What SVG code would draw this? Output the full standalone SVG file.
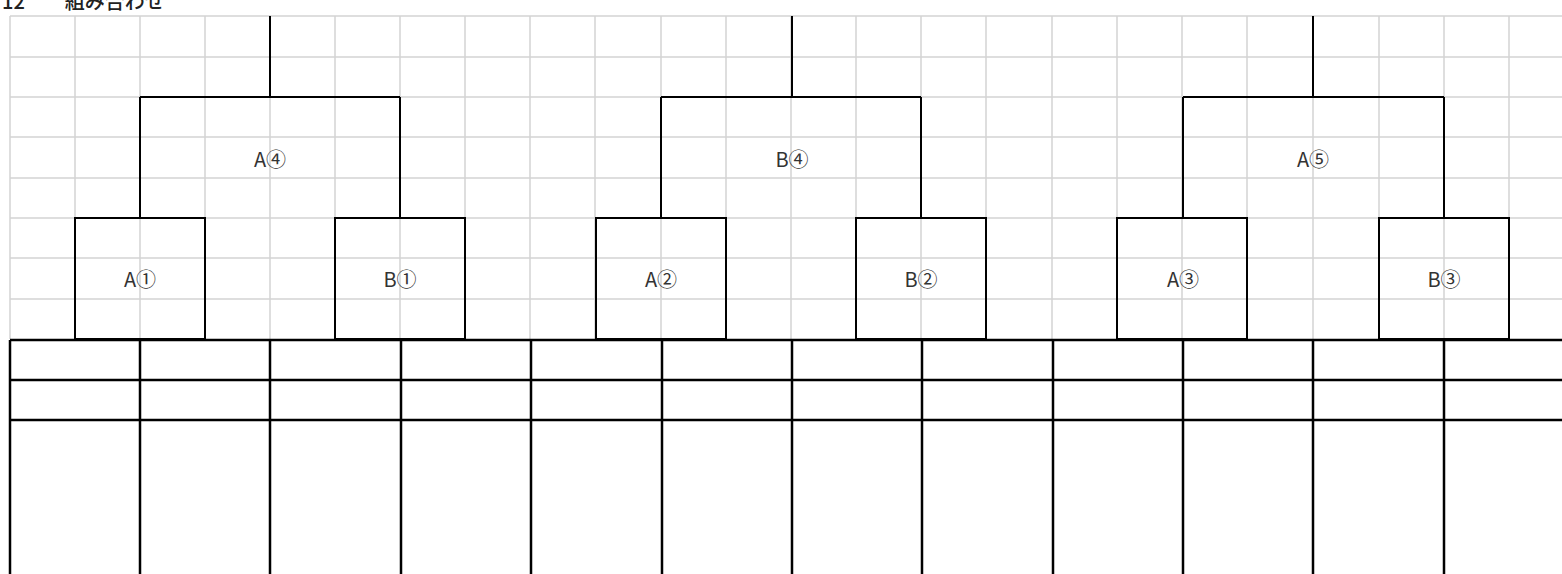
<svg xmlns="http://www.w3.org/2000/svg" width="1562" height="574" viewBox="0 0 1562 574">
<style>
.grid{stroke:#d4d4d4;stroke-width:1.5;fill:none}
.ln{stroke:#000;stroke-width:2;fill:none}
.tb{stroke:#000;stroke-width:2.5;fill:none}
.lbl{font-family:"Noto Sans CJK JP","Noto Sans",sans-serif;font-size:20px;fill:#333;text-anchor:middle;dominant-baseline:central}
.title{font-family:"Noto Sans CJK JP",sans-serif;font-size:20px;font-weight:500;fill:#222}
</style>
<rect width="1562" height="574" fill="#fff"/>
<text class="title" x="2" y="9">12　　組み合わせ</text>
<g id="grid" class="grid">
<path d="M10 16H1562M10 57H1562M10 97H1562M10 137H1562M10 178H1562M10 218H1562M10 258H1562M10 299H1562"/>
<path d="M10 16V339M75 16V339M140 16V339M205 16V339M270 16V339M335 16V339M400 16V339M465 16V339M530 16V339M595 16V339M661 16V339M726 16V339M791 16V339M856 16V339M921 16V339M986 16V339M1052 16V339M1117 16V339M1182 16V339M1247 16V339M1313 16V339M1379 16V339M1444 16V339M1509 16V339"/>
</g>
<g id="connectors" class="ln">
<path d="M270 16V97M140 97H400M140 97V218M400 97V218"/>
<path d="M792 16V97M661 97H921M661 97V218M921 97V218"/>
<path d="M1313 16V97M1183 97H1444M1183 97V218M1444 97V218"/>
</g>
<g id="node-A4"><text class="lbl" x="270" y="158">A④</text></g>
<g id="node-B4"><text class="lbl" x="792" y="158">B④</text></g>
<g id="node-A5"><text class="lbl" x="1313" y="158">A⑤</text></g>
<g id="node-A1"><rect class="ln" x="75" y="218" width="130" height="121"/><text class="lbl" x="140" y="278">A①</text></g>
<g id="node-B1"><rect class="ln" x="335" y="218" width="130" height="121"/><text class="lbl" x="400" y="278">B①</text></g>
<g id="node-A2"><rect class="ln" x="596" y="218" width="130" height="121"/><text class="lbl" x="661" y="278">A②</text></g>
<g id="node-B2"><rect class="ln" x="856" y="218" width="130" height="121"/><text class="lbl" x="921" y="278">B②</text></g>
<g id="node-A3"><rect class="ln" x="1117" y="218" width="130" height="121"/><text class="lbl" x="1183" y="278">A③</text></g>
<g id="node-B3"><rect class="ln" x="1379" y="218" width="130" height="121"/><text class="lbl" x="1444" y="278">B③</text></g>
<g id="table" class="tb">
<path d="M10 340H1562M10 380H1562M10 420H1562"/>
<path d="M10 340V574M140 340V574M270 340V574M401 340V574M531 340V574M662 340V574M792 340V574M922 340V574M1053 340V574M1183 340V574M1313 340V574M1444 340V574"/>
</g>
</svg>
